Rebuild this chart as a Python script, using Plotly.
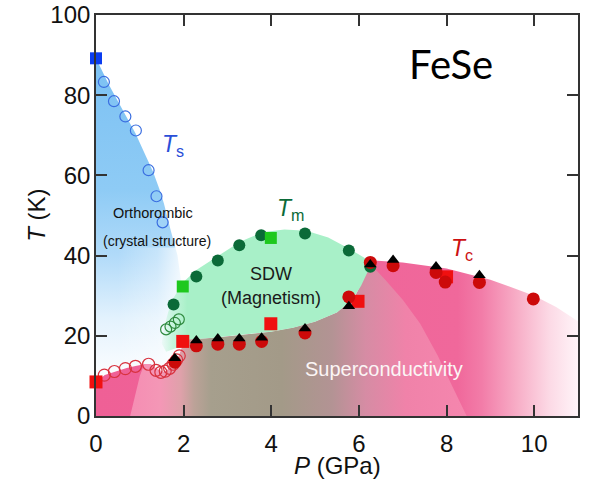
import plotly.graph_objects as go

# ---------------- data ----------------
# Structural transition Ts
ts_sq_p = [0.0]
ts_sq_t = [89.2]
ts_open_p = [0.18, 0.41, 0.67, 0.91, 1.20, 1.38, 1.52]
ts_open_t = [83.3, 78.5, 74.7, 71.2, 61.3, 54.8, 48.3]

# Magnetic transition Tm
tm_fill_p = [1.77, 2.29, 2.78, 3.27, 3.77, 4.77, 5.77, 6.26]
tm_fill_t = [27.8, 34.8, 38.8, 42.6, 45.1, 45.5, 41.3, 37.2]
tm_sq_p = [1.98, 3.99]
tm_sq_t = [32.3, 44.4]
tm_open_p = [1.60, 1.70, 1.80, 1.89]
tm_open_t = [21.6, 22.3, 23.2, 24.1]

# Superconducting transition Tc
tc_sq_p = [0.0, 1.98, 3.99, 5.98, 8.0]
tc_sq_t = [8.5, 18.6, 23.0, 28.6, 34.7]
tc_open_p = [0.19, 0.42, 0.67, 0.90, 1.20, 1.37, 1.48, 1.58, 1.68, 1.76, 1.84, 1.90]
tc_open_t = [10.2, 11.1, 11.8, 12.4, 12.9, 11.4, 10.9, 11.2, 11.9, 12.9, 14.0, 15.0]
tc_circ_p = [1.80, 2.29, 2.78, 3.27, 3.78, 4.77, 5.77, 6.26, 6.78, 7.76, 7.97, 8.75, 9.98]
tc_circ_t = [13.4, 17.5, 17.9, 17.9, 18.6, 20.7, 29.7, 38.3, 37.5, 35.8, 33.4, 33.3, 29.2]
tc_tri_p = [1.80, 2.29, 2.78, 3.27, 3.78, 4.77, 5.77, 6.26, 6.78, 7.76, 8.75]
tc_tri_t = [14.4, 18.8, 19.3, 19.3, 19.5, 21.8, 27.4, 37.8, 38.9, 37.3, 35.1]

# Phase-region boundaries (shapes of the shaded areas)
ortho_edge_p = [0.0, 0.3, 0.6, 0.9, 1.15, 1.3, 1.45, 1.55, 1.7, 1.86, 1.95, 2.0]
ortho_edge_t = [89.2, 82.5, 76.5, 70.5, 64.5, 61.0, 56.5, 53.0, 46.5, 40.0, 33.0, 26.0]

sc_top_p = [0.0, 0.2, 0.45, 0.7, 0.9, 1.1, 1.25, 1.4, 1.55, 1.7, 1.85, 1.95, 2.0, 2.5,
            3.0, 4.0, 4.5, 5.0, 5.5, 5.9, 6.1, 6.22, 6.35, 7.0, 8.0, 9.0, 10.0, 10.5, 11.0]
sc_top_t = [8.5, 10.2, 11.1, 12.0, 12.5, 12.9, 12.9, 11.6, 11.0, 12.0, 14.0, 16.5, 19.0, 19.3,
            19.8, 21.0, 22.0, 23.5, 25.8, 29.5, 34.0, 37.5, 38.8, 38.3, 36.8, 34.0, 30.0, 27.2, 23.6]

dome_left_p = [0.78, 0.9, 1.0, 1.1]
dome_left_t = [0.0, 5.5, 10.0, 12.9]
dome_right_p = [6.25, 6.6, 7.0, 7.4, 7.8, 8.15, 8.46]
dome_right_t = [38.0, 34.0, 29.0, 23.0, 15.0, 7.0, 0.0]

sdw_top_p = [1.5, 1.55, 1.65, 1.77, 2.0, 2.3, 2.8, 3.3, 3.8, 4.3, 4.8, 5.3, 5.77, 6.1, 6.3]
sdw_top_t = [18.0, 22.0, 26.0, 29.5, 33.5, 36.5, 40.0, 43.5, 45.8, 46.5, 46.2, 44.5, 41.8, 39.5, 38.3]
sdw_bot_p = [6.2, 6.05, 5.85, 5.5, 5.0, 4.5, 4.0, 3.0, 2.5, 2.0, 1.85, 1.6]
sdw_bot_t = [36.0, 32.5, 29.0, 25.8, 23.5, 22.0, 21.0, 19.8, 19.3, 19.0, 17.0, 16.0]

x_ticks = [0, 2, 4, 6, 8, 10]
y_ticks = [0, 20, 40, 60, 80, 100]

FONT = "Liberation Sans, Arial, sans-serif"

fig = go.Figure()

# ---------- shaded regions ----------
# Orthorhombic (blue) region
bp = ortho_edge_p + [2.0] + [p for p, t in zip(sc_top_p, sc_top_t) if p < 2.0][::-1]
bt = ortho_edge_t + [19.0] + [t for p, t in zip(sc_top_p, sc_top_t) if p < 2.0][::-1]
fig.add_trace(go.Scatter(
    x=bp, y=bt, mode="lines", line=dict(width=0), fill="toself",
    fillgradient=dict(type="vertical", start=8, stop=89,
                      colorscale=[[0, "#ffffff"], [0.2, "#e3f2fd"], [0.4, "#b0daf9"],
                                  [0.6, "#8ecbf5"], [1, "#7cc1f3"]]),
    hoverinfo="skip", showlegend=False))

# horizontal whitening of the lower right part of the blue region
wp = [0.5, 2.05, 2.05, 0.5]
wt = [8.0, 8.0, 42.0, 42.0]
fig.add_trace(go.Scatter(
    x=wp, y=wt, mode="lines", line=dict(width=0), fill="toself",
    fillgradient=dict(type="horizontal", start=0.5, stop=2.0,
                      colorscale=[[0, "rgba(255,255,255,0)"], [0.6, "rgba(255,255,255,0.3)"],
                                  [1, "rgba(255,255,255,0.85)"]]),
    hoverinfo="skip", showlegend=False))

# Superconductivity: outer region
op = [0.0] + sc_top_p + [11.0]
ot = [0.0] + sc_top_t + [0.0]
fig.add_trace(go.Scatter(
    x=op, y=ot, mode="lines", line=dict(width=0), fill="toself",
    fillgradient=dict(type="horizontal", start=0, stop=11,
                      colorscale=[[0, "#ef6096"], [0.75, "#f0689b"], [0.8, "#f27ca8"],
                                  [0.87, "#f7abc5"], [0.94, "#fcd9e5"], [1, "#fff4f8"]]),
    hoverinfo="skip", showlegend=False))

# Superconductivity: inner dome
mid_p = [p for p in sc_top_p if 1.1 < p < 6.25]
mid_t = [t for p, t in zip(sc_top_p, sc_top_t) if 1.1 < p < 6.25]
ip = dome_left_p + mid_p + dome_right_p
it = dome_left_t + mid_t + dome_right_t
fig.add_trace(go.Scatter(
    x=ip, y=it, mode="lines", line=dict(width=0), fill="toself",
    fillgradient=dict(type="horizontal", start=0.78, stop=8.46,
                      colorscale=[[0, "#f58db3"], [0.09, "#f497b6"], [0.15, "#dfa1aa"],
                                  [0.19, "#bca298"], [0.24, "#a69f8d"], [0.45, "#a39a88"],
                                  [0.6, "#b39394"], [0.7, "#d68ca4"], [0.82, "#f082a9"],
                                  [1, "#f586ae"]]),
    hoverinfo="skip", showlegend=False))

# SDW (green) region
gp = sdw_top_p + sdw_bot_p
gt = sdw_top_t + sdw_bot_t
fig.add_trace(go.Scatter(
    x=gp, y=gt, mode="lines", line=dict(width=0), fill="toself",
    fillgradient=dict(type="horizontal", start=1.45, stop=6.3,
                      colorscale=[[0, "rgba(168,240,200,0)"], [0.06, "rgba(168,240,200,0.6)"],
                                  [0.13, "rgba(168,240,200,1)"], [1, "rgba(168,240,200,1)"]]),
    hoverinfo="skip", showlegend=False))

# ---------- markers ----------
def mk(x, y, symbol, size, color, line_color=None, lw=0, open_=False):
    fig.add_trace(go.Scatter(
        x=x, y=y, mode="markers", showlegend=False, hoverinfo="skip", cliponaxis=False,
        marker=dict(symbol=symbol, size=size,
                    color="rgba(0,0,0,0)" if open_ else color,
                    line=dict(color=line_color or color, width=lw))))

mk(ts_open_p, ts_open_t, "circle", 11, None, "#3a6ee0", 1.2, open_=True)
mk(ts_sq_p, ts_sq_t, "square", 12, "#0a3cf0")
mk(tc_open_p, tc_open_t, "circle", 12, None, "#d8323f", 1.2, open_=True)
mk(tm_open_p, tm_open_t, "circle", 11, None, "#2e8a3e", 1.2, open_=True)
mk(tm_fill_p, tm_fill_t, "circle", 12, "#0b6a38")
mk(tm_sq_p, tm_sq_t, "square", 12, "#1ec81e")
mk(tc_sq_p, tc_sq_t, "square", 13, "#f01010")
mk(tc_circ_p, tc_circ_t, "circle", 13, "#cc0a0a")
mk(tc_tri_p, tc_tri_t, "triangle-up", 11, "#000000")

# ---------- annotations ----------
ann = []
def txt(x, y, s, size, color, family=FONT, **kw):
    ann.append(dict(x=x, y=y, xref="x", yref="y", text=s, showarrow=False,
                    font=dict(size=size, color=color, family=family), **kw))

txt(1.75, 67.5, "<i>T</i><sub>s</sub>", 23, "#2a4fd8")
txt(4.45, 51.5, "<i>T</i><sub>m</sub>", 23, "#0b6a38")
txt(8.35, 41.5, "<i>T</i><sub>c</sub>", 23, "#cc1111")
txt(1.3, 50.6, "Orthorombic", 14.5, "#111111")
txt(1.39, 43.6, "(crystal structure)", 14, "#111111")
txt(4.0, 35.3, "SDW", 18, "#1a1a1a")
txt(4.0, 29.4, "(Magnetism)", 18, "#1a1a1a")
txt(6.57, 11.6, "Superconductivity", 20, "#fbf5f5")
txt(8.1, 87.8, "FeSe", 40, "#000000", family="Lato, Open Sans, sans-serif")

# axis titles (placed in paper coordinates relative to the plot area)
ann.append(dict(x=0.5, y=-0.123, xref="paper", yref="paper", text="<i>P</i> (GPa)",
                showarrow=False, xanchor="center", yanchor="middle",
                font=dict(size=24, color="#111111", family=FONT)))
ann.append(dict(x=-0.124, y=0.5, xref="paper", yref="paper", text="<i>T</i> (K)",
                showarrow=False, xanchor="center", yanchor="middle", textangle=-90,
                font=dict(size=24, color="#111111", family=FONT)))

axis_common = dict(
    showline=True, linecolor="#333333", linewidth=1.6, mirror="ticks",
    ticks="inside", ticklen=11, tickwidth=1.5, tickcolor="#333333",
    showgrid=False, zeroline=False, automargin=False,
    tickfont=dict(size=24, color="#111111", family=FONT),
)

fig.update_layout(
    width=590, height=480,
    margin=dict(l=96, r=12, t=15, b=64, pad=0),
    paper_bgcolor="white", plot_bgcolor="white",
    showlegend=False,
    annotations=ann,
    xaxis=dict(range=[0, 11], tickvals=x_ticks, ticktext=[str(v) for v in x_ticks],
               ticklabelstandoff=5, **axis_common),
    yaxis=dict(range=[0, 100], tickvals=y_ticks, ticktext=[str(v) for v in y_ticks],
               ticklabelstandoff=-1, **axis_common),
)

fig.write_html("out.html")
